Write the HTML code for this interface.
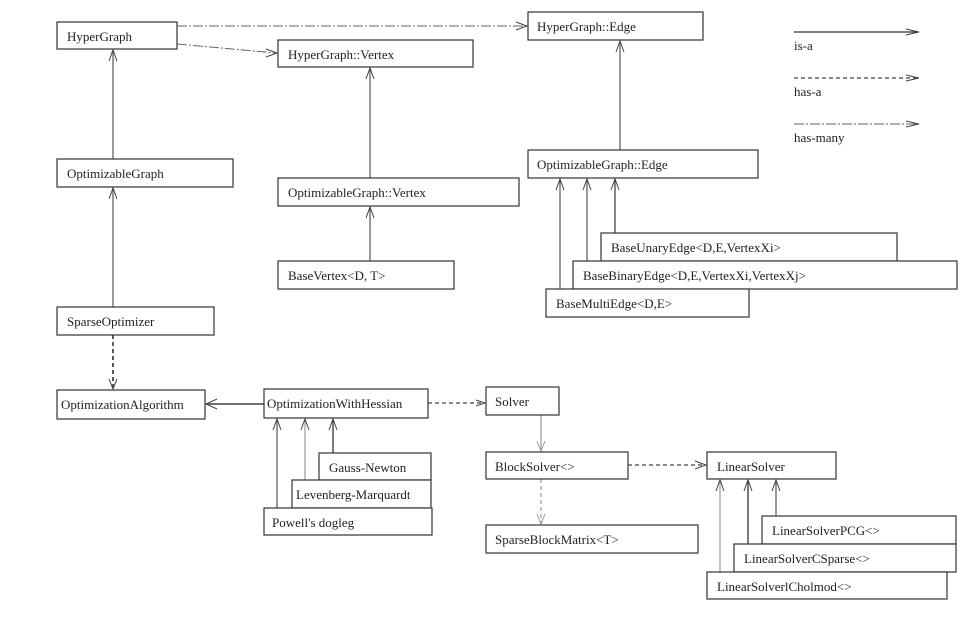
<!DOCTYPE html>
<html><head><meta charset="utf-8"><style>
html,body{margin:0;padding:0;background:#fff;}
svg{display:block;}
text{font-family:"Liberation Serif",serif;font-size:13px;fill:#222;}
rect{fill:#fff;stroke:#333;stroke-width:1.2;}
.l{stroke:#555;stroke-width:1.2;fill:none;}
.d{stroke:#444;stroke-width:1.2;fill:none;stroke-dasharray:4,3;}
.dg{stroke:#999;stroke-width:1.2;fill:none;stroke-dasharray:4,3;}
.dm{stroke:#666;stroke-width:1;fill:none;stroke-dasharray:10,2,2,2;}
.h{stroke:#444;stroke-width:1;fill:none;}
</style></head><body>
<svg width="976" height="621" viewBox="0 0 976 621" xmlns="http://www.w3.org/2000/svg">
<!-- connectors -->
<line class="dm" x1="177" y1="26" x2="526" y2="26"/><polyline class="h" points="516,22 527,26 516,30"/>
<line class="dm" x1="177" y1="44" x2="276" y2="53"/><polyline class="h" points="266,49 277,53 266,57"/>
<line class="l" x1="113" y1="159" x2="113" y2="50"/><polyline class="h" points="109,61 113,50 117,61"/>
<line class="l" x1="113" y1="307" x2="113" y2="188"/><polyline class="h" points="109,199 113,188 117,199"/>
<line class="d" x1="113" y1="335" x2="113" y2="389" style="stroke-width:1.8"/><polyline class="h" points="109,379 113,389 117,379"/>
<line class="l" x1="370" y1="178" x2="370" y2="68"/><polyline class="h" points="366,79 370,68 374,79"/>
<line class="l" x1="370" y1="261" x2="370" y2="207"/><polyline class="h" points="366,218 370,207 374,218"/>
<line class="l" x1="620" y1="150" x2="620" y2="41"/><polyline class="h" points="616,52 620,41 624,52"/>
<line class="l" x1="560" y1="289" x2="560" y2="179"/><polyline class="h" points="556,190 560,179 564,190"/>
<line class="l" x1="587" y1="261" x2="587" y2="179"/><polyline class="h" points="583,190 587,179 591,190"/>
<line class="l" x1="615" y1="233" x2="615" y2="179" style="stroke:#333"/><polyline class="h" points="611,190 615,179 619,190"/>
<line class="l" x1="264" y1="404" x2="206" y2="404" style="stroke:#444;stroke-width:1.5"/><polyline class="h" points="217,399 206,404 217,409"/>
<line class="l" x1="277" y1="508" x2="277" y2="419"/><polyline class="h" points="273,430 277,419 281,430"/>
<line class="l" x1="305" y1="480" x2="305" y2="419" style="stroke:#999"/><polyline class="h" points="301,430 305,419 309,430"/>
<line class="l" x1="333" y1="453" x2="333" y2="419" style="stroke:#222"/><polyline class="h" points="329,430 333,419 337,430"/>
<line class="d" x1="428" y1="403" x2="484" y2="403"/><polyline class="h" points="476,400 485,403 476,406"/>
<line class="l" x1="541" y1="415" x2="541" y2="451" style="stroke:#999"/><polyline class="h" style="stroke:#999" points="537,441 541,451 545,441"/>
<line class="dg" x1="541" y1="479" x2="541" y2="524"/><polyline class="h" style="stroke:#999" points="537,514 541,524 545,514"/>
<line class="d" x1="628" y1="465" x2="705" y2="465"/><polyline class="h" points="695,461 706,465 695,469"/>
<line class="l" x1="720" y1="572" x2="720" y2="480" style="stroke:#999"/><polyline class="h" points="716,491 720,480 724,491"/>
<line class="l" x1="748" y1="544" x2="748" y2="480" style="stroke:#222"/><polyline class="h" points="744,491 748,480 752,491"/>
<line class="l" x1="776" y1="516" x2="776" y2="480"/><polyline class="h" points="772,491 776,480 780,491"/>
<!-- legend -->
<line class="l" x1="794" y1="32" x2="918" y2="32" style="stroke:#333"/><polyline class="h" points="906,29 919,32 906,35"/>
<text x="794" y="50">is-a</text>
<line class="d" x1="794" y1="78" x2="918" y2="78"/><polyline class="h" points="906,75 919,78 906,81"/>
<text x="794" y="96">has-a</text>
<line class="dm" x1="794" y1="124" x2="918" y2="124"/><polyline class="h" points="906,121 919,124 906,127"/>
<text x="794" y="142">has-many</text>
<!-- boxes -->
<rect x="57" y="22" width="120" height="27"/><text x="67" y="41">HyperGraph</text>
<rect x="278" y="40" width="195" height="27"/><text x="288" y="59">HyperGraph::Vertex</text>
<rect x="528" y="12" width="175" height="28"/><text x="537" y="31">HyperGraph::Edge</text>
<rect x="57" y="159" width="176" height="28"/><text x="67" y="178">OptimizableGraph</text>
<rect x="278" y="178" width="241" height="28"/><text x="288" y="197">OptimizableGraph::Vertex</text>
<rect x="528" y="150" width="230" height="28"/><text x="537" y="169">OptimizableGraph::Edge</text>
<rect x="278" y="261" width="176" height="28"/><text x="288" y="280">BaseVertex&lt;D, T&gt;</text>
<rect x="601" y="233" width="296" height="28"/><text x="611" y="252">BaseUnaryEdge&lt;D,E,VertexXi&gt;</text>
<rect x="573" y="261" width="384" height="28"/><text x="583" y="280">BaseBinaryEdge&lt;D,E,VertexXi,VertexXj&gt;</text>
<rect x="546" y="289" width="203" height="28"/><text x="556" y="308">BaseMultiEdge&lt;D,E&gt;</text>
<rect x="57" y="307" width="157" height="28"/><text x="67" y="326">SparseOptimizer</text>
<rect x="57" y="390" width="148" height="29"/><text x="61" y="409">OptimizationAlgorithm</text>
<rect x="264" y="389" width="164" height="29"/><text x="267" y="408">OptimizationWithHessian</text>
<rect x="319" y="453" width="112" height="27"/><text x="329" y="472">Gauss-Newton</text>
<rect x="292" y="480" width="139" height="28"/><text x="296" y="499">Levenberg-Marquardt</text>
<rect x="264" y="508" width="168" height="27"/><text x="272" y="527">Powell's dogleg</text>
<rect x="486" y="387" width="73" height="28"/><text x="495" y="406">Solver</text>
<rect x="486" y="452" width="142" height="27"/><text x="495" y="471">BlockSolver&lt;&gt;</text>
<rect x="486" y="525" width="212" height="28"/><text x="495" y="544">SparseBlockMatrix&lt;T&gt;</text>
<rect x="707" y="452" width="129" height="27"/><text x="717" y="471">LinearSolver</text>
<rect x="762" y="516" width="194" height="28"/><text x="772" y="535">LinearSolverPCG&lt;&gt;</text>
<rect x="734" y="544" width="222" height="28"/><text x="744" y="563">LinearSolverCSparse&lt;&gt;</text>
<rect x="707" y="572" width="240" height="27"/><text x="717" y="591">LinearSolverlCholmod&lt;&gt;</text>
</svg>
</body></html>
